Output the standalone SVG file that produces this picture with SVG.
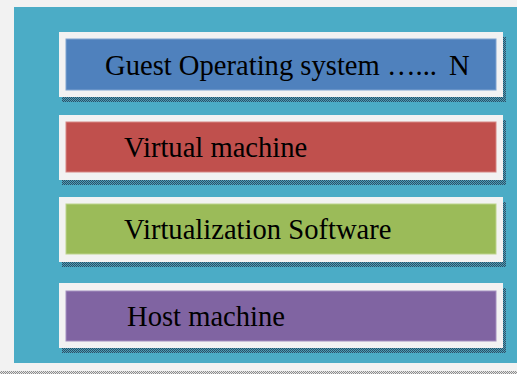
<svg xmlns="http://www.w3.org/2000/svg" width="517" height="374" viewBox="0 0 517 374">
  <defs>
    <!-- checkered shadow texture -->
    <pattern id="shade" width="2" height="2" patternUnits="userSpaceOnUse">
      <rect width="2" height="2" fill="#4a9fb8"/>
      <rect width="1" height="1" fill="#2e4f66"/>
      <rect x="1" y="1" width="1" height="1" fill="#2e4f66"/>
    </pattern>
    <pattern id="rule" width="2" height="2" patternUnits="userSpaceOnUse">
      <rect width="2" height="2" fill="#e6e6e6"/>
      <rect width="1" height="1" fill="#8c8c8c"/>
      <rect x="1" y="1" width="1" height="1" fill="#8c8c8c"/>
    </pattern>
  </defs>
  <style>
    .shadow { fill: url(#shade); }
    .frame { fill: #f2f2f2; }
    .label { font-family: "Liberation Serif", "Times New Roman", serif; font-size: 28.6px; fill: #000; }
  </style>

  <!-- page and panel -->
  <rect x="0" y="0" width="517" height="374" fill="#f2f2f2"/>
  <rect x="14" y="7" width="503" height="356" fill="#4bacc6"/>
  <rect x="0" y="371" width="517" height="3" fill="url(#rule)"/>

  <g id="guest-os">
    <rect class="shadow" x="62" y="37" width="444" height="65"/>
    <rect class="frame" x="59" y="32" width="444" height="65"/>
    <rect x="66" y="39" width="430" height="51" fill="#4f81bd" stroke="#7fa3d0" stroke-width="1"/>
    <text class="label" x="105" y="75">Guest Operating system …...<tspan x="449">N</tspan></text>
  </g>

  <g id="virtual-machine">
    <rect class="shadow" x="62" y="120" width="444" height="65"/>
    <rect class="frame" x="59" y="115" width="444" height="65"/>
    <rect x="66" y="122" width="430" height="50" fill="#c0504d" stroke="#d68583" stroke-width="1"/>
    <text class="label" x="124" y="157">Virtual machine</text>
  </g>

  <g id="virtualization-software">
    <rect class="shadow" x="62" y="202" width="444" height="65"/>
    <rect class="frame" x="59" y="197" width="444" height="65"/>
    <rect x="66" y="204" width="430" height="50" fill="#9bbb59" stroke="#bcd38c" stroke-width="1"/>
    <text class="label" x="124" y="239">Virtualization Software</text>
  </g>

  <g id="host-machine">
    <rect class="shadow" x="62" y="288" width="444" height="65"/>
    <rect class="frame" x="59" y="283" width="444" height="65"/>
    <rect x="66" y="291" width="430" height="50" fill="#8064a2" stroke="#a48fbf" stroke-width="1"/>
    <text class="label" x="127" y="326">Host machine</text>
  </g>

  <g id="connectors"></g>
</svg>
